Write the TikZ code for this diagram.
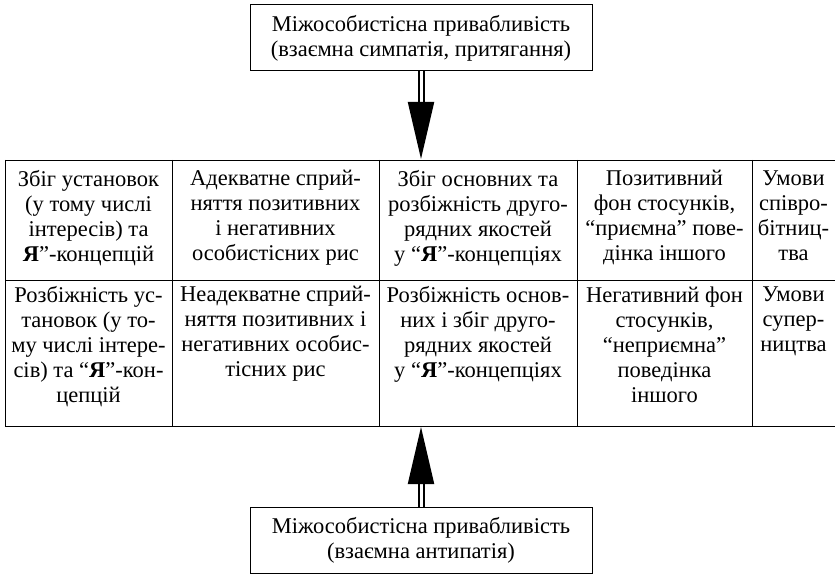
\documentclass[tikz,border=0pt]{standalone}
\usepackage{fontspec}
\setmainfont{Liberation Serif}
\usetikzlibrary{arrows.meta}

\newcommand{\cellfont}{\fontsize{22.5pt}{25pt}\selectfont}

\begin{document}
\begin{tikzpicture}[x=1pt,y=-1pt,line width=0.9pt]
    \tikzstyle{cell}=[align=center, anchor=north, inner sep=0pt, font=\cellfont]
    \tikzstyle{source box}=[draw, line width=1pt, align=center, font=\cellfont,
        minimum width=342pt, minimum height=66pt, inner sep=0pt]
    \tikzstyle{double arrow}=[double, line width=2pt, double distance=3pt,
        -{Triangle[length=57pt,width=26pt]}]

    \newcommand{\rowtop}{160}
    \newcommand{\rowmid}{280}
    \newcommand{\rowbot}{426}

    \useasboundingbox (0,0) rectangle (835,580);

    % Draw the table lines
    \foreach \y in {\rowtop,\rowmid,\rowbot}
        \draw (5,\y) -- (835,\y);
    \foreach \x in {5,172,379,577,752}
        \draw (\x,\rowtop) -- (\x,\rowbot);

    % Draw the attraction row
    \node[cell] (R1-1) at (88.5,170) {Збіг установок\\(у тому числі\\інтересів) та\\\textbf{Я}”-концепцій};
    \node[cell] (R1-2) at (275.5,170) {Адекватне сприй-\\няття позитивних\\і негативних\\особистісних рис};
    \node[cell] (R1-3) at (478,170) {Збіг основних та\\розбіжність друго-\\рядних якостей\\у “\textbf{Я}”-концепціях};
    \node[cell] (R1-4) at (664.5,170) {Позитивний\\фон стосунків,\\“приємна” пове-\\дінка іншого};
    \node[cell] (R1-5) at (793.5,170) {Умови\\співро-\\бітниц-\\тва};

    % Draw the antipathy row
    \node[cell] (R2-1) at (88.5,286) {Розбіжність ус-\\тановок (у то-\\му числі інтере-\\сів) та “\textbf{Я}”-кон-\\цепцій};
    \node[cell] (R2-2) at (275.5,286) {Неадекватне сприй-\\няття позитивних і\\негативних особис-\\тісних рис};
    \node[cell] (R2-3) at (478,286) {Розбіжність основ-\\них і збіг друго-\\рядних якостей\\у “\textbf{Я}”-концепціях};
    \node[cell] (R2-4) at (664.5,286) {Негативний фон\\стосунків,\\“неприємна”\\поведінка\\іншого};
    \node[cell] (R2-5) at (793.5,286) {Умови\\супер-\\ництва};

    % Draw the source boxes
    \node[source box] (attract) at (421,38) {Міжособистісна привабливість\\(взаємна симпатія, притягання)};
    \node[source box] (antipathy) at (421,540) {Міжособистісна привабливість\\(взаємна антипатія)};

    % Connect the boxes with the table
    \coordinate (top tip) at (421,159);
    \coordinate (bottom tip) at (421,427);
    \draw[double arrow] (attract.south) -- (top tip);
    \draw[double arrow] (antipathy.north) -- (bottom tip);
\end{tikzpicture}
\end{document}
